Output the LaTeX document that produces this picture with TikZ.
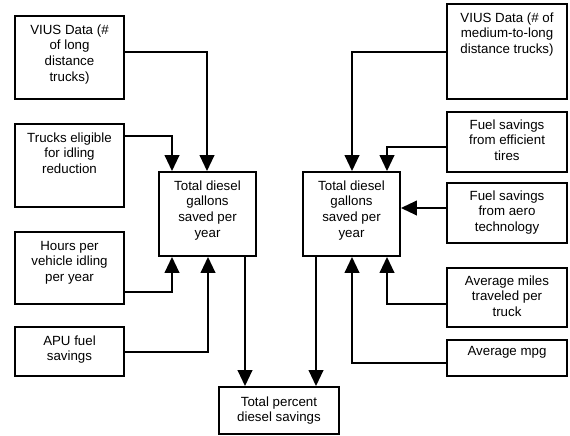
\documentclass[tikz,border=0pt]{standalone}
\usepackage{fontspec}
\setmainfont{Liberation Sans}
\usetikzlibrary{arrows.meta}
\begin{document}
\begin{tikzpicture}[x=1pt,y=-1pt,
  box/.style={draw, line width=1.8pt, inner sep=0pt},
  txt/.style={anchor=north, align=center, inner xsep=0pt, inner ysep=0pt,
    font=\fontsize{13.3}{15.6}\selectfont},
  arr/.style={line width=2.3pt, -{Triangle[length=16pt,width=14.5pt]}}]
\useasboundingbox (0,0) rectangle (570,436);
\newcommand\topgap[1][19pt]{\rule{0pt}{#1}}
% left-hand inputs
\node[box, minimum width=109, minimum height=83] (vl)  at (69.5,57.5) {};
\node[txt] (vlt) at (vl.north) {\topgap VIUS Data (\#\\of long\\distance\\trucks)};
\node[box, minimum width=109, minimum height=83] (te)  at (69.5,165.5) {};
\node[txt] (tet) at (te.north) {\topgap Trucks eligible\\for idling\\reduction};
\node[box, minimum width=109, minimum height=72] (hp)  at (69.5,268) {};
\node[txt] (hpt) at (hp.north) {\topgap Hours per\\vehicle idling\\per year};
\node[box, minimum width=109, minimum height=49] (apu) at (69.5,351.5) {};
\node[txt] (aput) at (apu.north) {\topgap APU fuel\\savings};
% totals
\node[box, minimum width=97, minimum height=84] (tl) at (207.5,214) {};
\node[txt] (tlt) at (tl.north) {\topgap Total diesel\\gallons\\saved per\\year};
\node[box, minimum width=97, minimum height=84] (tr) at (351.5,214) {};
\node[txt] (trt) at (tr.north) {\topgap Total diesel\\gallons\\saved per\\year};
\node[box, minimum width=120, minimum height=47] (tp) at (279,410.5) {};
\node[txt] (tpt) at (tp.north) {\topgap[20pt]Total percent\\diesel savings};
% right-hand inputs
\node[box, minimum width=120, minimum height=95] (vr)  at (507,51.5) {};
\node[txt] (vrt) at (vr.north) {\topgap VIUS Data (\# of\\medium-to-long\\distance trucks)};
\node[box, minimum width=120, minimum height=60] (ft)  at (507,142) {};
\node[txt] (ftt) at (ft.north) {\topgap[18pt]Fuel savings\\from efficient\\tires};
\node[box, minimum width=120, minimum height=60] (fa)  at (507,213) {};
\node[txt] (fat) at (fa.north) {\topgap[18pt]Fuel savings\\from aero\\technology};
\node[box, minimum width=120, minimum height=59] (am)  at (507,297.5) {};
\node[txt] (amt) at (am.north) {\topgap[18pt]Average miles\\traveled per\\truck};
\node[box, minimum width=120, minimum height=36] (mpg) at (507,358) {};
\node[txt] (mpgt) at (mpg.north) {\topgap[16.5pt]Average mpg};
% connectors, left group
\draw[arr] (vl.east |- 0,52)   -| (207,0 |- tl.north);
\draw[arr] (te.east |- 0,136)  -| (172,0 |- tl.north);
\draw[arr] (hp.east |- 0,292)  -| (172,0 |- tl.south);
\draw[arr] (apu.east |- 0,352) -| (208,0 |- tl.south);
\draw[arr] (245,0 |- tl.south) -- (245,0 |- tp.north);
% connectors, right group
\draw[arr] (vr.west |- 0,52)   -| (352,0 |- tr.north);
\draw[arr] (ft.west |- 0,147)  -| (387,0 |- tr.north);
\draw[arr] (fa.west |- 0,208)  -- (tr.east |- 0,208);
\draw[arr] (am.west |- 0,304)  -| (387,0 |- tr.south);
\draw[arr] (mpg.west |- 0,363) -| (352,0 |- tr.south);
\draw[arr] (316,0 |- tr.south) -- (316,0 |- tp.north);
\end{tikzpicture}
\end{document}
